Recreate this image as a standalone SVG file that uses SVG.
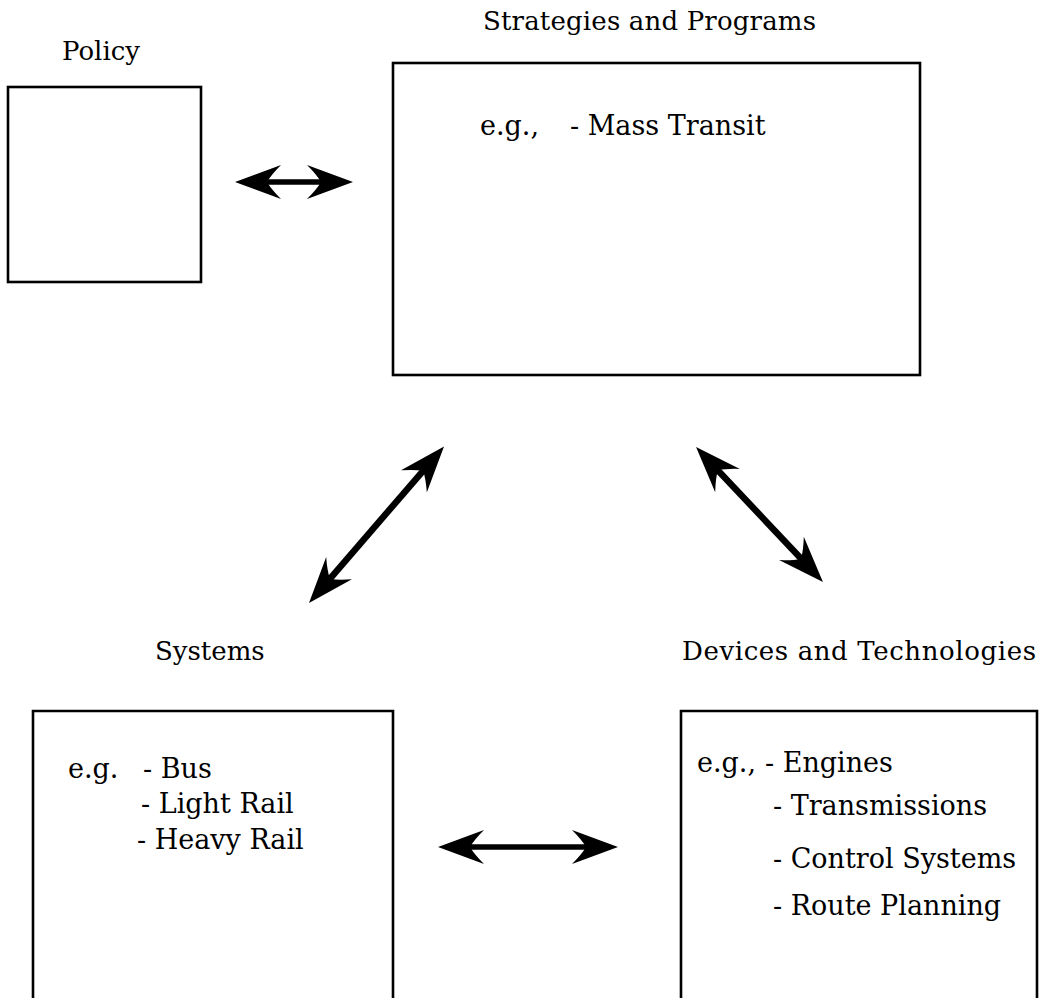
<svg xmlns="http://www.w3.org/2000/svg" width="1045" height="998" viewBox="0 0 1045 998">
<style>
  text { font-family: "DejaVu Serif", "Liberation Serif", serif; font-size: 26px; fill: #000; }
  .body { font-size: 27px; }
  .box { fill: none; stroke: #000; stroke-width: 2.6; }
  .arr { stroke: #000; stroke-width: 5.5; fill: none; marker-start: url(#head); marker-end: url(#head); }
  .diag { stroke-width: 6.5; }
</style>
<defs>
  <marker id="head" markerUnits="userSpaceOnUse" viewBox="-48 -20 52 40" markerWidth="52" markerHeight="40" refX="-30" refY="0" orient="auto-start-reverse">
    <path d="M0,0 L-46,-17 Q-36,-7 -32,0 Q-36,7 -46,17 Z" fill="#000"/>
  </marker>
</defs>
<rect width="1045" height="998" fill="#fff"/>
<g id="policy">
  <text x="62" y="60">Policy</text>
  <rect class="box" x="8" y="87" width="193" height="195"/>
</g>
<g id="strategies">
  <text x="483" y="30" textLength="333">Strategies and Programs</text>
  <rect class="box" x="393" y="63" width="527" height="312"/>
  <text class="body" x="480" y="135">e.g.,</text>
  <text class="body" x="570" y="135">- Mass Transit</text>
</g>
<g id="systems">
  <text x="155" y="660">Systems</text>
  <path class="box" d="M33,1000 V711 H393 V1000"/>
  <text class="body" x="68" y="778">e.g.</text>
  <text class="body" x="143" y="778">- Bus</text>
  <text class="body" x="141" y="813">- Light Rail</text>
  <text class="body" x="137" y="849">- Heavy Rail</text>
</g>
<g id="devices">
  <text x="682" y="660" textLength="354">Devices and Technologies</text>
  <path class="box" d="M681,1000 V711 H1037 V1000"/>
  <text class="body" x="697" y="772">e.g.,</text>
  <text class="body" x="765" y="772">- Engines</text>
  <text class="body" x="773" y="815">- Transmissions</text>
  <text class="body" x="773" y="868">- Control Systems</text>
  <text class="body" x="773" y="915">- Route Planning</text>
</g>
<g id="connectors">
  <line class="arr" x1="265" y1="182" x2="323" y2="182"/>
  <line class="arr diag" x1="328.6" y1="580.3" x2="424.4" y2="469.3"/>
  <line class="arr diag" x1="716.6" y1="468.9" x2="802.4" y2="560.1"/>
  <line class="arr" x1="468" y1="847" x2="588" y2="847"/>
</g>
</svg>
